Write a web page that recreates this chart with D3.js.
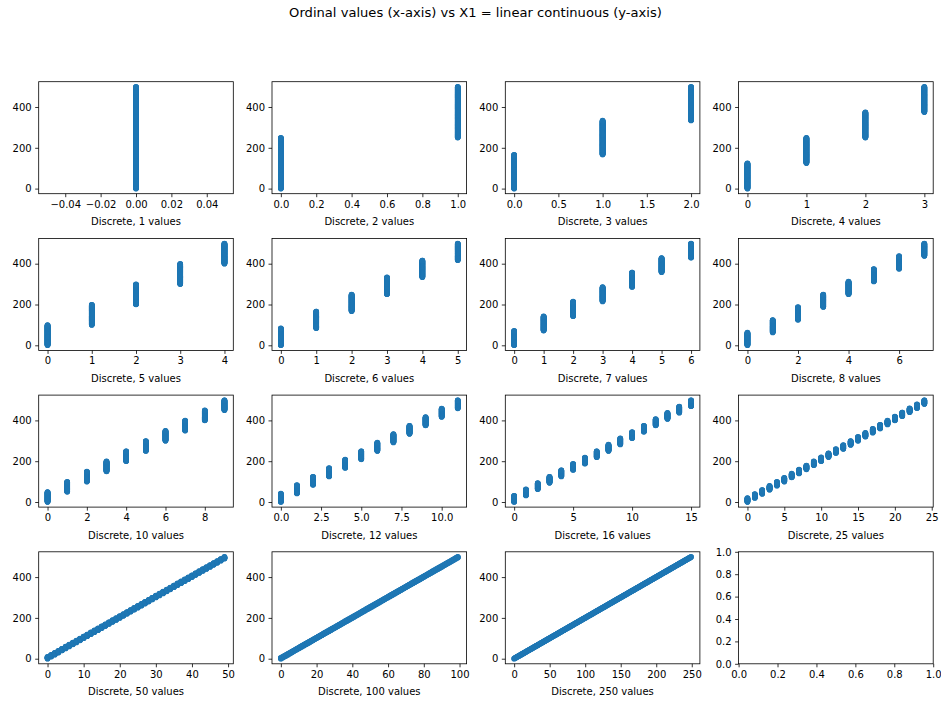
<!DOCTYPE html>
<html>
<head>
<meta charset="utf-8">
<script src="https://cdn.jsdelivr.net/npm/d3@7"></script>
<style>
  body { margin: 0; background: #fff; }
  text { font-family: "DejaVu Sans", sans-serif; fill: #000; }
</style>
</head>
<body>
<svg id="fig" width="941" height="701"></svg>
<script>
"use strict";

// number of discrete values used for each panel
var discreteCounts = [1, 2, 3, 4, 5, 6, 7, 8, 10, 12, 16, 25, 50, 100, 250]

// X1: linear continuous values 0..499 (one per sample)
var x1Values = d3.range(0, 500)

// x tick values shown per panel
var xTicks = [
    [-0.04, -0.02, 0, 0.02, 0.04],
    [0, 0.2, 0.4, 0.6, 0.8, 1.0],
    [0, 0.5, 1.0, 1.5, 2.0],
    [0, 1, 2, 3],
    [0, 1, 2, 3, 4],
    [0, 1, 2, 3, 4, 5],
    [0, 1, 2, 3, 4, 5, 6],
    [0, 2, 4, 6],
    [0, 2, 4, 6, 8],
    [0, 2.5, 5.0, 7.5, 10.0],
    [0, 5, 10, 15],
    [0, 5, 10, 15, 20, 25],
    [0, 10, 20, 30, 40, 50],
    [0, 20, 40, 60, 80, 100],
    [0, 50, 100, 150, 200, 250]
]
var xTickDecimals = [2, 1, 1, 0, 0, 0, 0, 0, 0, 1, 0, 0, 0, 0, 0]
var yTicks = [0, 200, 400]
var emptyTicks = [0, 0.2, 0.4, 0.6, 0.8, 1.0]

var title = "Ordinal values (x-axis) vs X1 = linear continuous (y-axis)"

var svg = d3.select("#fig")
var W = 941, H = 701
var left0 = 38.7, top0 = 81.7, colStep = 233.3, rowStep = 156.7
var pw = 194.6, ph = 112

svg.append("rect").attr("width", W).attr("height", H).attr("fill", "#fff")

svg.append("text")
    .attr("x", 475.5)
    .attr("y", 16.5)
    .attr("text-anchor", "middle")
    .style("font-size", "13.1px")
    .text(title)

function fmt(dec) {
    return v => d3.format("." + dec + "f")(v).replace("-", "\u2212")
}

// matplotlib-like auto limits with 5% margins
function paddedDomain(lo, hi) {
    if (lo === hi) { lo -= 0.05; hi += 0.05 }
    var m = (hi - lo) * 0.05
    return [lo - m, hi + m]
}

function styleAxis(g) {
    g.select(".domain").remove()
    g.selectAll(".tick line").attr("stroke", "#000").attr("stroke-width", 0.8)
    g.selectAll(".tick text").style("font-size", "10px").style("font-family", "DejaVu Sans, sans-serif").attr("fill", "#000")
}

function drawPanel(i) {
    var col = i % 4, row = Math.floor(i / 4)
    var g = svg.append("g")
        .attr("transform", "translate(" + (left0 + col * colStep) + "," + (top0 + row * rowStep) + ")")

    var x, y, xt, yt, xf, yf
    if (i < discreteCounts.length) {
        var n = discreteCounts[i]
        var data = x1Values.map(v => ({ x: Math.floor(v * n / x1Values.length), y: v }))
        x = d3.scaleLinear().domain(paddedDomain(d3.min(data, d => d.x), d3.max(data, d => d.x))).range([0, pw])
        y = d3.scaleLinear().domain(paddedDomain(d3.min(data, d => d.y), d3.max(data, d => d.y))).range([ph, 0])
        xt = xTicks[i]; yt = yTicks
        xf = fmt(xTickDecimals[i]); yf = fmt(0)

        g.append("g").selectAll("circle")
            .data(data)
            .enter().append("circle")
            .attr("cx", d => x(d.x))
            .attr("cy", d => y(d.y))
            .attr("r", 2.8)
            .attr("fill", "#1f77b4")

        g.append("text")
            .attr("x", pw / 2)
            .attr("y", ph + 31.5)
            .attr("text-anchor", "middle")
            .style("font-size", "10px")
            .text("Discrete, " + n + " values")
    } else {
        x = d3.scaleLinear().domain([0, 1]).range([0, pw])
        y = d3.scaleLinear().domain([0, 1]).range([ph, 0])
        xt = emptyTicks; yt = emptyTicks
        xf = fmt(1); yf = fmt(1)
    }

    var gx = g.append("g")
        .attr("transform", "translate(0," + ph + ")")
        .call(d3.axisBottom(x).tickValues(xt).tickFormat(xf).tickSize(3.5).tickPadding(3.5))
    styleAxis(gx)
    var gy = g.append("g")
        .call(d3.axisLeft(y).tickValues(yt).tickFormat(yf).tickSize(3.5).tickPadding(3.5))
    styleAxis(gy)

    g.append("rect")
        .attr("width", pw)
        .attr("height", ph)
        .attr("fill", "none")
        .attr("stroke", "#000")
        .attr("stroke-width", 0.8)
}

for (var i = 0; i < 16; i++) drawPanel(i)
</script>
</body>
</html>
